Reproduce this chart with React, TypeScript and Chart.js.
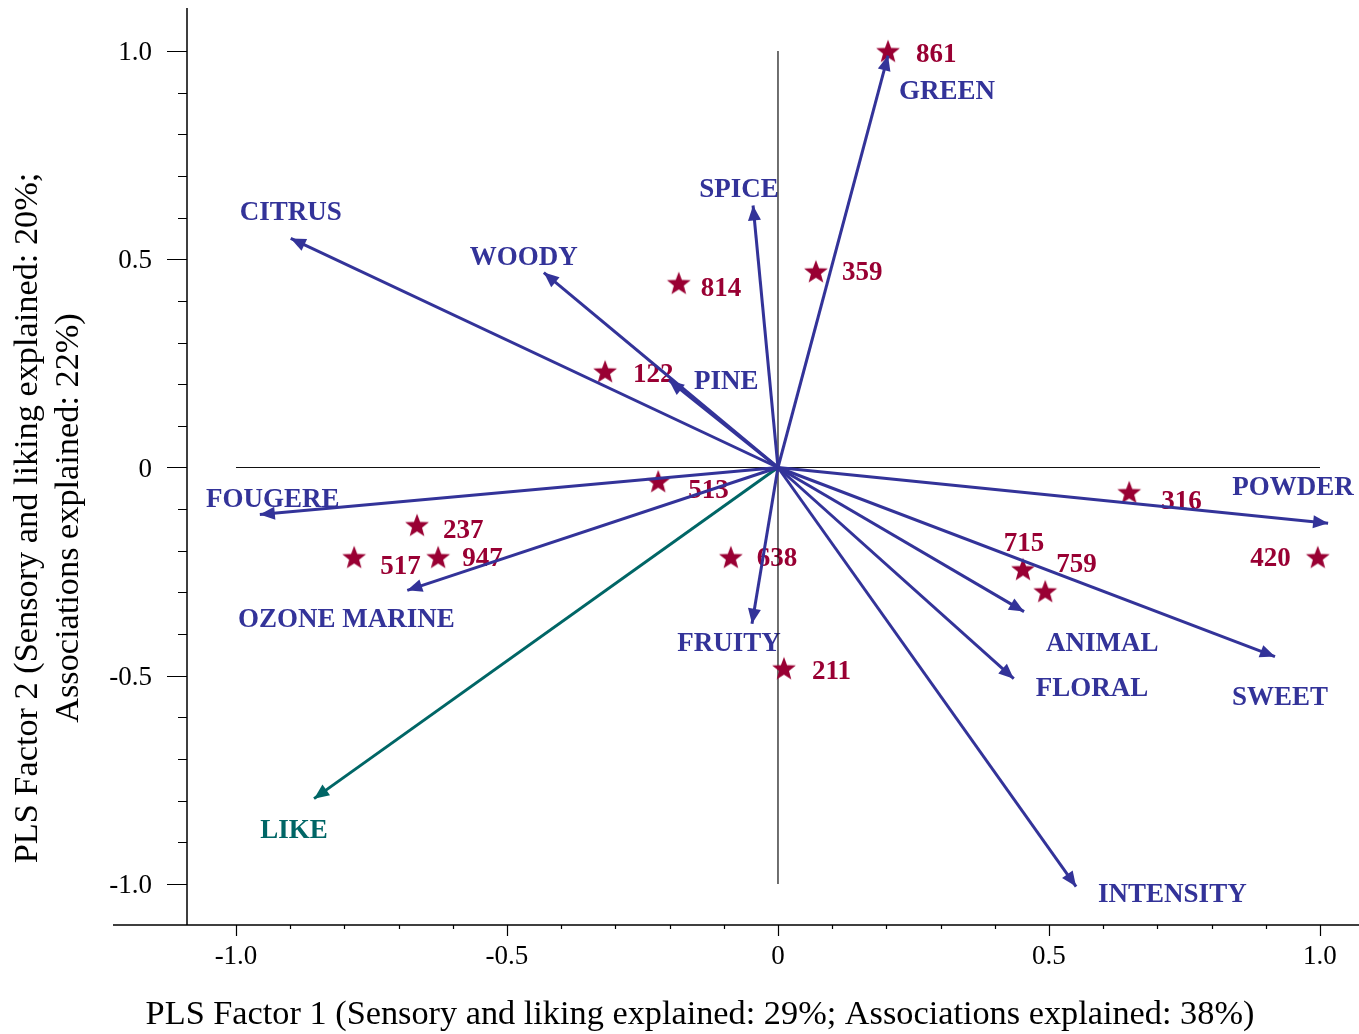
import React, { useEffect, useRef } from "react";
import { Chart, registerables } from "chart.js";

Chart.register(...registerables);

// ---------- data ----------
const VARIABLES = ["GREEN", "SPICE", "CITRUS", "WOODY", "PINE", "FOUGERE", "OZONE MARINE", "FRUITY", "INTENSITY", "FLORAL", "ANIMAL", "SWEET", "POWDER"];
const VAR_X = [0.203, -0.046, -0.899, -0.432, -0.201, -0.956, -0.684, -0.048, 0.55, 0.435, 0.454, 0.917, 1.015];
const VAR_Y = [0.989, 0.629, 0.55, 0.468, 0.209, -0.113, -0.295, -0.375, -1.006, -0.507, -0.346, -0.454, -0.134];

const LIKE_LABEL = "LIKE";
const LIKE_X = -0.856;
const LIKE_Y = -0.795;

const SAMPLES = ["861", "359", "814", "122", "513", "237", "517", "947", "638", "211", "316", "715", "759", "420"];
const SAMPLE_X = [0.203, 0.07, -0.183, -0.319, -0.221, -0.666, -0.782, -0.627, -0.087, 0.011, 0.648, 0.452, 0.493, 0.996];
const SAMPLE_Y = [0.999, 0.47, 0.442, 0.23, -0.034, -0.139, -0.216, -0.216, -0.216, -0.483, -0.06, -0.245, -0.298, -0.216];

const X_TICKS = [-1, -0.5, 0, 0.5, 1];
const Y_TICKS = [-1, -0.5, 0, 0.5, 1];

const X_TITLE = "PLS Factor 1 (Sensory and liking explained: 29%; Associations explained: 38%)";
const Y_TITLE_LINES = ["PLS Factor 2 (Sensory and liking explained: 20%;", "Associations explained: 22%)"];

// ---------- layout / style (label offsets in pixels from the mark) ----------
const VAR_LABEL_OFFSETS: [number, number, CanvasTextAlign][] = [
  [11, 34, "left"],    // GREEN
  [-14, -17, "center"], // SPICE
  [0, -27, "center"],  // CITRUS
  [-20, -17, "center"], // WOODY
  [25, 0, "left"],     // PINE
  [13, -17, "center"], // FOUGERE
  [-61, 28, "center"], // OZONE MARINE
  [-23, 18, "center"], // FRUITY
  [22, 7, "left"],     // INTENSITY
  [22, 8, "left"],     // FLORAL
  [22, 30, "left"],    // ANIMAL
  [5, 39, "center"],   // SWEET
  [-35, -37, "center"], // POWDER
];
const LIKE_LABEL_OFFSET: [number, number, CanvasTextAlign] = [-20, 30, "center"];
const SAMPLE_LABEL_OFFSETS: [number, number, CanvasTextAlign][] = [
  [28, 2, "left"],   // 861
  [26, -1, "left"],  // 359
  [22, 4, "left"],   // 814
  [28, 1, "left"],   // 122
  [30, 7, "left"],   // 513
  [26, 4, "left"],   // 237
  [26, 8, "left"],   // 517
  [24, 0, "left"],   // 947
  [26, 0, "left"],   // 638
  [28, 1, "left"],   // 211
  [32, 8, "left"],   // 316
  [1, -28, "center"], // 715
  [11, -29, "left"], // 759
  [-27, 0, "right"], // 420
];
const LABEL_DY = 2;

const BLUE = "#333399";
const CRIMSON = "#990033";
const TEAL = "#006666";
const SERIF = '"Liberation Serif", "Times New Roman", Times, serif';

const W = 1359;
const H = 1034;
const X_MIN = -1.0904;
const X_MAX = 1.072;
const Y_MIN = -1.0984;
const Y_MAX = 1.1032;

function makeStar(color: string, size: number): HTMLCanvasElement {
  const c = document.createElement("canvas");
  c.width = size;
  c.height = size;
  const g = c.getContext("2d")!;
  const cx = size / 2;
  const R = size / 2 - 0.5;
  const r = R * 0.42;
  const cy = size / 2 + R * 0.05;
  g.beginPath();
  for (let k = 0; k < 10; k++) {
    const rad = k % 2 === 0 ? R : r;
    const a = -Math.PI / 2 + (k * Math.PI) / 5;
    const px = cx + rad * Math.cos(a);
    const py = cy + rad * Math.sin(a);
    if (k === 0) g.moveTo(px, py);
    else g.lineTo(px, py);
  }
  g.closePath();
  g.fillStyle = color;
  g.fill();
  return c;
}

const N_VAR = VARIABLES.length;
const LIKE_INDEX = N_VAR;
const STAR_INDEX = N_VAR + 1;

const biplotPlugin = {
  id: "biplot",
  beforeDatasetsDraw(chart: any) {
    const ctx = chart.ctx as CanvasRenderingContext2D;
    const area = chart.chartArea;
    const xs = chart.scales.x;
    const ys = chart.scales.y;
    ctx.save();

    // axes lines
    ctx.strokeStyle = "#000";
    ctx.lineWidth = 1.5;
    ctx.beginPath();
    ctx.moveTo(area.left, area.top);
    ctx.lineTo(area.left, area.bottom);
    ctx.moveTo(113, area.bottom);
    ctx.lineTo(area.right, area.bottom);
    ctx.stroke();

    // ticks
    ctx.lineWidth = 1.2;
    ctx.beginPath();
    for (let k = -10; k <= 10; k++) {
      const v = k / 10;
      const major = k % 5 === 0;
      const px = Math.round(xs.getPixelForValue(v)) + 0.5;
      ctx.moveTo(px, area.bottom);
      ctx.lineTo(px, area.bottom + (major ? 11 : 4));
      const py = Math.round(ys.getPixelForValue(v)) + 0.5;
      ctx.moveTo(area.left, py);
      ctx.lineTo(area.left - (major ? 20 : 9), py);
    }
    ctx.stroke();

    // axis titles
    ctx.fillStyle = "#000";
    ctx.font = `34.3px ${SERIF}`;
    ctx.textAlign = "center";
    ctx.textBaseline = "alphabetic";
    ctx.fillText(X_TITLE, 700, 1024);
    const baseX = [37, 78];
    Y_TITLE_LINES.forEach((line, i) => {
      ctx.save();
      ctx.translate(baseX[i], 518);
      ctx.rotate(-Math.PI / 2);
      ctx.fillText(line, 0, 0);
      ctx.restore();
    });

    // labels
    ctx.font = `bold 27px ${SERIF}`;
    ctx.textBaseline = "middle";
    for (let i = 0; i < N_VAR; i++) {
      const tip = chart.getDatasetMeta(i).data[1];
      const [dx, dy, al] = VAR_LABEL_OFFSETS[i];
      ctx.fillStyle = BLUE;
      ctx.textAlign = al;
      ctx.fillText(VARIABLES[i], tip.x + dx, tip.y + dy + LABEL_DY);
    }
    {
      const tip = chart.getDatasetMeta(LIKE_INDEX).data[1];
      const [dx, dy, al] = LIKE_LABEL_OFFSET;
      ctx.fillStyle = TEAL;
      ctx.textAlign = al;
      ctx.fillText(LIKE_LABEL, tip.x + dx, tip.y + dy + LABEL_DY);
    }
    const stars = chart.getDatasetMeta(STAR_INDEX).data;
    stars.forEach((pt: any, i: number) => {
      const [dx, dy, al] = SAMPLE_LABEL_OFFSETS[i];
      ctx.fillStyle = CRIMSON;
      ctx.textAlign = al;
      ctx.fillText(SAMPLES[i], pt.x + dx, pt.y + dy + LABEL_DY);
    });
    ctx.restore();
  },
  afterDatasetsDraw(chart: any) {
    const ctx = chart.ctx as CanvasRenderingContext2D;
    ctx.save();
    for (let i = 0; i <= LIKE_INDEX; i++) {
      const meta = chart.getDatasetMeta(i);
      const p0 = meta.data[0];
      const p1 = meta.data[1];
      const ang = Math.atan2(p1.y - p0.y, p1.x - p0.x);
      const len = 15;
      const hw = 6.5;
      const bx = p1.x - len * Math.cos(ang);
      const by = p1.y - len * Math.sin(ang);
      ctx.fillStyle = i === LIKE_INDEX ? TEAL : BLUE;
      ctx.beginPath();
      ctx.moveTo(p1.x, p1.y);
      ctx.lineTo(bx + hw * Math.sin(ang), by - hw * Math.cos(ang));
      ctx.lineTo(bx - hw * Math.sin(ang), by + hw * Math.cos(ang));
      ctx.closePath();
      ctx.fill();
    }
    ctx.restore();
  },
};

function zeroPadding(s: any) {
  s.paddingTop = 0;
  s.paddingBottom = 0;
  s.paddingLeft = 0;
  s.paddingRight = 0;
}

export default function App() {
  const ref = useRef<HTMLCanvasElement | null>(null);

  useEffect(() => {
    document.body.style.margin = "0";
    document.body.style.overflow = "hidden";
    const canvas = ref.current;
    if (!canvas) return;
    const star = makeStar(CRIMSON, 26);

    const arrowSets: any[] = VARIABLES.map((name, i) => ({
      label: name,
      data: [
        { x: 0, y: 0 },
        { x: VAR_X[i], y: VAR_Y[i] },
      ],
      showLine: true,
      borderColor: BLUE,
      borderWidth: 3,
      pointRadius: 0,
      pointHoverRadius: 0,
      order: 0,
    }));
    arrowSets.push({
      label: LIKE_LABEL,
      data: [
        { x: 0, y: 0 },
        { x: LIKE_X, y: LIKE_Y },
      ],
      showLine: true,
      borderColor: TEAL,
      borderWidth: 3,
      pointRadius: 0,
      pointHoverRadius: 0,
      order: 0,
    });
    const datasets: any[] = [
      ...arrowSets,
      {
        label: "samples",
        data: SAMPLES.map((_, i) => ({ x: SAMPLE_X[i], y: SAMPLE_Y[i] })),
        pointStyle: star,
        pointRadius: 13,
        pointHoverRadius: 0,
        showLine: false,
        order: 2,
      },
      {
        label: "h-ref",
        data: [
          { x: X_TICKS[0], y: 0 },
          { x: X_TICKS[X_TICKS.length - 1], y: 0 },
        ],
        showLine: true,
        borderColor: "#111",
        borderWidth: 1.2,
        pointRadius: 0,
        order: 3,
      },
      {
        label: "v-ref",
        data: [
          { x: 0, y: Y_TICKS[0] },
          { x: 0, y: Y_TICKS[Y_TICKS.length - 1] },
        ],
        showLine: true,
        borderColor: "#111",
        borderWidth: 1.2,
        pointRadius: 0,
        order: 3,
      },
    ];

    const fmt = (v: any) => (Number(v) === 0 ? "0" : Number(v).toFixed(1));

    const chart = new Chart(canvas, {
      type: "scatter",
      data: { datasets },
      options: {
        animation: false,
        responsive: false,
        maintainAspectRatio: false,
        events: [],
        layout: { autoPadding: false, padding: { top: 8, right: 0, bottom: 0, left: 0 } },
        plugins: {
          legend: { display: false },
          tooltip: { enabled: false },
        },
        scales: {
          x: {
            type: "linear",
            min: X_MIN,
            max: X_MAX,
            grid: { display: false, drawTicks: false },
            border: { display: false },
            ticks: {
              font: { family: SERIF, size: 27 },
              color: "#000",
              padding: 16,
              maxRotation: 0,
              autoSkip: false,
              callback: fmt,
            },
            afterBuildTicks: (s: any) => {
              s.ticks = X_TICKS.map((v) => ({ value: v }));
            },
            afterFit: (s: any) => {
              s.height = H - 925;
              zeroPadding(s);
            },
          },
          y: {
            type: "linear",
            min: Y_MIN,
            max: Y_MAX,
            grid: { display: false, drawTicks: false },
            border: { display: false },
            ticks: {
              font: { family: SERIF, size: 27 },
              color: "#000",
              padding: 35,
              labelOffset: 2,
              autoSkip: false,
              callback: fmt,
            },
            afterBuildTicks: (s: any) => {
              s.ticks = Y_TICKS.map((v) => ({ value: v }));
            },
            afterFit: (s: any) => {
              s.width = 187;
              zeroPadding(s);
            },
          },
        },
      } as any,
      plugins: [biplotPlugin],
    });

    return () => chart.destroy();
  }, []);

  return (
    <div style={{ width: W, height: H, background: "#fff" }}>
      <canvas ref={ref} width={W} height={H} style={{ display: "block" }} />
    </div>
  );
}
